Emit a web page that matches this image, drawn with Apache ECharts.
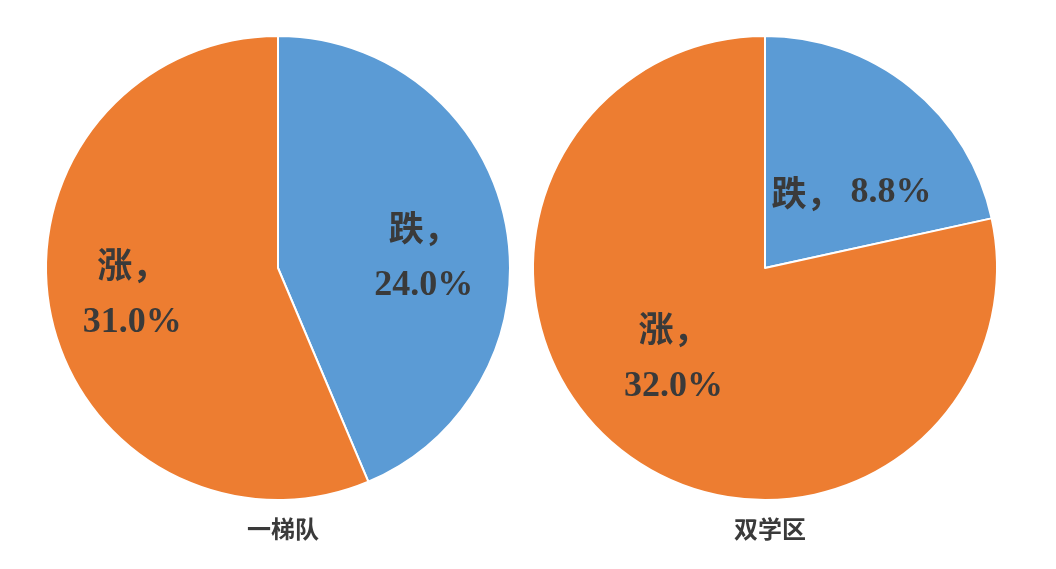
<!DOCTYPE html>
<html>
<head>
<meta charset="utf-8">
<script src="https://cdn.jsdelivr.net/npm/echarts@6/dist/echarts.min.js"></script>
<style>html,body{margin:0;padding:0;background:#fff}#c{width:1056px;height:569px}</style>
</head>
<body>
<div id="c"></div>
<script>
const categories = ['跌', '涨'];
const group1Name = '一梯队';
const group1Values = [24.0, 31.0];
const group2Name = '双学区';
const group2Values = [8.8, 32.0];
const colors = ['#5B9BD5', '#ED7D31'];

const textColor = '#3a3a3a';

function makeData(values, offsets, oneLine) {
  return values.map((v, i) => ({
    name: categories[i],
    value: v,
    itemStyle: { color: colors[i] },
    label: {
      offset: offsets[i],
      formatter: p => '{c|' + p.name + '，}' + (oneLine[i] ? '{n| }' : '\n') + '{n|' + p.value.toFixed(1) + '%}'
    }
  }));
}

const baseSeries = {
  type: 'pie',
  radius: 232,
  startAngle: 90,
  clockwise: true,
  silent: true,
  itemStyle: { borderColor: '#fff', borderWidth: 2 },
  label: {
    show: true, position: 'inside', color: textColor,
    fontSize: 34, lineHeight: 58,
    rich: {
      c: { fontSize: 35, fontWeight: 'bold', color: textColor, fontFamily: "'Noto Sans CJK SC', sans-serif", lineHeight: 58 },
      n: { fontSize: 36, fontWeight: 'bold', color: textColor, fontFamily: "'Liberation Serif', serif", lineHeight: 58 }
    }
  },
  labelLine: { show: false },
  animation: false
};

const chart = echarts.init(document.getElementById('c'));
chart.setOption({
  backgroundColor: '#fff',
  title: [
    { text: group1Name, left: 278, top: 512, textAlign: 'center',
      textStyle: { fontSize: 24, fontWeight: 'bold', color: textColor, fontFamily: "'Noto Sans CJK SC', sans-serif" } },
    { text: group2Name, left: 765, top: 512, textAlign: 'center',
      textStyle: { fontSize: 24, fontWeight: 'bold', color: textColor, fontFamily: "'Noto Sans CJK SC', sans-serif" } }
  ],
  series: [
    Object.assign({}, baseSeries, {
      name: group1Name, center: [278, 268],
      data: makeData(group1Values, [[29, 12], [-29, 2]], [false, false])
    }),
    Object.assign({}, baseSeries, {
      name: group2Name, center: [765, 268],
      data: makeData(group2Values, [[12, 17], [-17, -3]], [true, false])
    })
  ]
});
</script>
</body>
</html>
